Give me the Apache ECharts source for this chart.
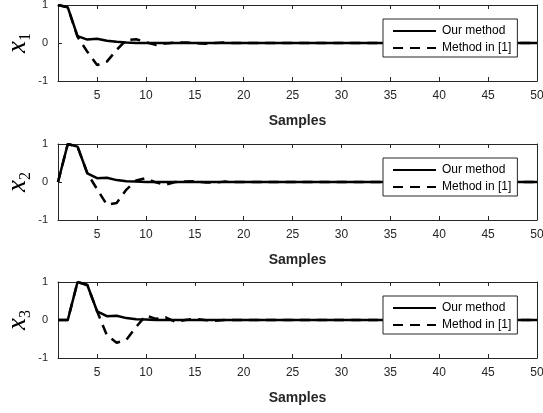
<!DOCTYPE html>
<html>
<head>
<meta charset="utf-8">
<script src="https://cdn.jsdelivr.net/npm/echarts@6/dist/echarts.min.js"></script>
<style>
  html, body { margin: 0; padding: 0; background: #fff; }
  #main { width: 543px; height: 413px; }
</style>
</head>
<body>
<div id="main"></div>
<script>
// sample index (x axis)
var samples = [1, 2, 3, 4, 5, 6, 7, 8, 9, 10, 11, 12, 13, 14, 15, 16, 17, 18, 19, 20,
  21, 22, 23, 24, 25, 26, 27, 28, 29, 30, 31, 32, 33, 34, 35, 36, 37, 38, 39, 40,
  41, 42, 43, 44, 45, 46, 47, 48, 49, 50];
var xTicks = [5, 10, 15, 20, 25, 30, 35, 40, 45, 50];
var yTicks = [-1, 0, 1];
var stateNames = ['1', '2', '3'];
var legendNames = ['Our method', 'Method in [1]'];

// x1
var x1Ours = [1, 0.94, 0.18, 0.09, 0.11, 0.06, 0.03, 0.01, 0, 0,
  0, 0, 0, 0, 0, 0, 0, 0, 0, 0, 0, 0, 0, 0, 0, 0, 0, 0, 0, 0,
  0, 0, 0, 0, 0, 0, 0, 0, 0, 0, 0, 0, 0, 0, 0, 0, 0, 0, 0, 0];
var x1Ref = [1, 0.94, 0.16, -0.23, -0.58, -0.49, -0.18, 0.08, 0.1, 0.02,
  -0.05, -0.01, 0.01, 0.01, 0, -0.02, 0, 0.01, 0, 0,
  0, 0, 0, 0, 0, 0, 0, 0, 0, 0, 0, 0, 0, 0, 0, 0, 0, 0, 0, 0,
  0, 0, 0, 0, 0, 0, 0, 0, 0, 0];
// x2
var x2Ours = [0, 1, 0.93, 0.23, 0.1, 0.11, 0.05, 0.02, 0.01, 0,
  0, 0, 0, 0, 0, 0, 0, 0, 0, 0, 0, 0, 0, 0, 0, 0, 0, 0, 0, 0,
  0, 0, 0, 0, 0, 0, 0, 0, 0, 0, 0, 0, 0, 0, 0, 0, 0, 0, 0, 0];
var x2Ref = [0, 1, 0.93, 0.23, -0.19, -0.6, -0.55, -0.2, 0.04, 0.1,
  -0.01, -0.07, 0, 0.01, 0.02, -0.01, -0.02, 0.01, 0, 0,
  0, 0, 0, 0, 0, 0, 0, 0, 0, 0, 0, 0, 0, 0, 0, 0, 0, 0, 0, 0,
  0, 0, 0, 0, 0, 0, 0, 0, 0, 0];
// x3
var x3Ours = [0, 0, 1, 0.92, 0.23, 0.1, 0.11, 0.05, 0.02, 0.01,
  0, 0, 0, 0, 0, 0, 0, 0, 0, 0, 0, 0, 0, 0, 0, 0, 0, 0, 0, 0,
  0, 0, 0, 0, 0, 0, 0, 0, 0, 0, 0, 0, 0, 0, 0, 0, 0, 0, 0, 0];
var x3Ref = [0, 0, 1, 0.92, 0.23, -0.4, -0.6, -0.52, -0.18, 0.12,
  0.03, 0.07, -0.05, 0, 0.03, 0, -0.02, 0, 0, 0,
  0, 0, 0, 0, 0, 0, 0, 0, 0, 0, 0, 0, 0, 0, 0, 0, 0, 0, 0, 0,
  0, 0, 0, 0, 0, 0, 0, 0, 0, 0];

var oursAll = [x1Ours, x2Ours, x3Ours];
var refAll = [x1Ref, x2Ref, x3Ref];

var axisColor = '#262626';
var gridTops = [5, 144, 282];
var gridHeight = 76;

function pairs(vals) {
  var out = [];
  for (var i = 0; i < samples.length; i++) out.push([samples[i], vals[i]]);
  return out;
}

function boxLine() {
  return { show: true, onZero: false, lineStyle: { color: axisColor, width: 1 } };
}

var grids = [], xAxes = [], yAxes = [], series = [], legends = [];

for (var k = 0; k < 3; k++) {
  grids.push({ left: 58, right: 6, top: gridTops[k], height: gridHeight, containLabel: false, outerBoundsMode: 'none' });

  // bottom x axis with labels
  xAxes.push({
    type: 'value', gridIndex: k, min: 1, max: 50, position: 'bottom',
    name: 'Samples', nameLocation: 'middle', nameGap: 33,
    nameTextStyle: { fontFamily: 'Liberation Sans', fontWeight: 'bold', fontSize: 14, color: axisColor },
    axisLine: boxLine(),
    axisTick: { show: true, inside: true, length: 4, customValues: xTicks, lineStyle: { color: axisColor } },
    axisLabel: { customValues: xTicks, margin: 9, fontFamily: 'Liberation Sans', fontSize: 12, color: axisColor },
    splitLine: { show: false }
  });
  // top x axis (box)
  xAxes.push({
    type: 'value', gridIndex: k, min: 1, max: 50, position: 'top',
    axisLine: boxLine(),
    axisTick: { show: true, inside: true, length: 4, customValues: xTicks, lineStyle: { color: axisColor } },
    axisLabel: { show: false },
    splitLine: { show: false }
  });
  // left y axis
  yAxes.push({
    type: 'value', gridIndex: k, min: -1, max: 1, interval: 1, position: 'left',
    name: '{x|x}{s|' + stateNames[k] + '}', nameLocation: 'middle', nameRotate: 90, nameGap: 24,
    nameMoveOverlap: false,
    nameTextStyle: {
      rich: {
        x: { fontFamily: 'Liberation Serif', fontStyle: 'italic', fontSize: 27, color: '#000', lineHeight: 32, verticalAlign: 'middle' },
        s: { fontFamily: 'Liberation Serif', fontSize: 16, color: '#000', lineHeight: 32, verticalAlign: 'bottom' }
      }
    },
    axisLine: boxLine(),
    axisTick: { show: true, inside: true, length: 4, lineStyle: { color: axisColor } },
    axisLabel: { margin: 10, fontFamily: 'Liberation Sans', fontSize: 11, color: axisColor },
    splitLine: { show: false }
  });
  // right y axis (box)
  yAxes.push({
    type: 'value', gridIndex: k, min: -1, max: 1, interval: 1, position: 'right',
    axisLine: boxLine(),
    axisTick: { show: true, inside: true, length: 4, lineStyle: { color: axisColor } },
    axisLabel: { show: false },
    splitLine: { show: false }
  });

  series.push({
    name: legendNames[0], type: 'line', xAxisIndex: 2 * k, yAxisIndex: 2 * k,
    data: pairs(oursAll[k]), symbol: 'none', z: 2,
    lineStyle: { color: '#000', width: 2.5, type: 'solid' },
    itemStyle: { color: '#000' }
  });
  series.push({
    name: legendNames[1], type: 'line', xAxisIndex: 2 * k, yAxisIndex: 2 * k,
    data: pairs(refAll[k]), symbol: 'none', z: 3,
    lineStyle: { color: '#000', width: 2.5, type: [10, 7] },
    itemStyle: { color: '#000' }
  });

  legends.push({
    data: legendNames, orient: 'vertical', left: 383, top: gridTops[k] + 14,
    selectedMode: false, backgroundColor: '#fff',
    borderColor: axisColor, borderWidth: 1,
    padding: [6, 6, 3, 9], itemGap: 5, itemWidth: 43, itemHeight: 14,
    itemStyle: { opacity: 0 },
    textStyle: { fontFamily: 'Liberation Sans', fontSize: 12, color: '#000', padding: [0, 0, 0, 1] }
  });
}

var chart = echarts.init(document.getElementById('main'));
chart.setOption({
  animation: false,
  backgroundColor: '#fff',
  grid: grids,
  xAxis: xAxes,
  yAxis: yAxes,
  legend: legends,
  series: series
});
</script>
</body>
</html>
